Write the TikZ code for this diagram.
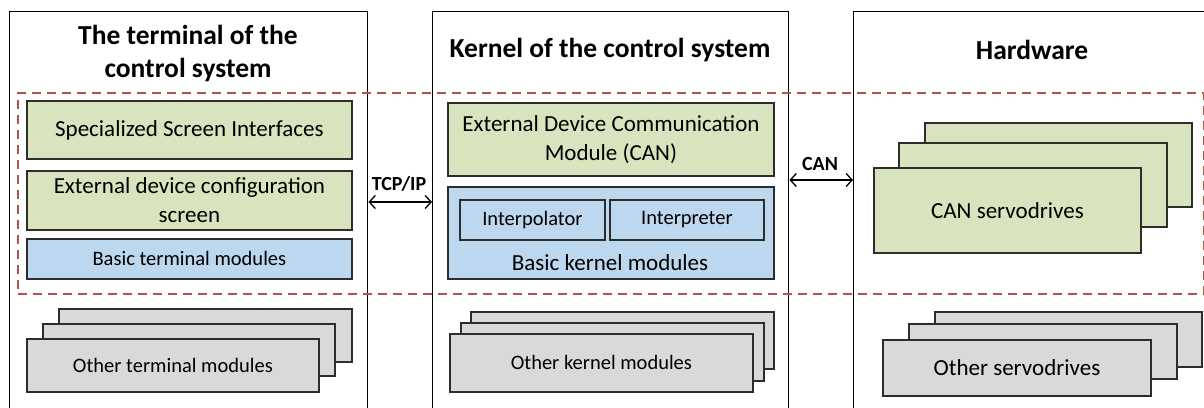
\documentclass[tikz,border=0pt]{standalone}
\usepackage{fontspec}
\setmainfont{Carlito}
\usetikzlibrary{arrows.meta}
\definecolor{gfill}{RGB}{215,228,189}
\definecolor{bfill}{RGB}{189,215,238}
\definecolor{kfill}{RGB}{217,217,217}
\definecolor{edge}{RGB}{45,45,45}
\definecolor{grpred}{RGB}{175,85,80}
\tikzset{
  panel/.style={draw=black, line width=1.4pt, anchor=north west, inner sep=0pt},
  mod/.style={draw=edge, line width=1.8pt, anchor=north west, inner sep=0pt, align=center},
  gmod/.style={mod, fill=gfill},
  bmod/.style={mod, fill=bfill},
  kmod/.style={mod, fill=kfill},
  bigtxt/.style={font=\fontsize{23}{29}\selectfont},
  smalltxt/.style={font=\fontsize{20.5}{25}\selectfont},
  titletxt/.style={font=\fontsize{27.5}{33}\selectfont\bfseries, align=center},
  tagtxt/.style={font=\fontsize{20}{24}\selectfont\bfseries},
  biarrow/.style={{Straight Barb[length=6pt,width=13pt]}-{Straight Barb[length=6pt,width=13pt]}, line width=1.3pt},
  grpbox/.style={draw=grpred, line width=1.5pt, dash pattern=on 9pt off 6pt, anchor=north west, inner sep=0pt}
}
\begin{document}
\begin{tikzpicture}[x=1pt,y=-1pt]
\path[use as bounding box, fill=white] (0,0) rectangle (1204,407);

% the three columns
\node[panel, minimum width=358pt, minimum height=410pt] (term) at (9,11) {};
\node[panel, minimum width=356pt, minimum height=410pt] (kern) at (432,11) {};
\node[panel, minimum width=360pt, minimum height=410pt] (hw) at (853,11) {};

% dashed group of the modules in use
\node[grpbox, minimum width=1186pt, minimum height=201pt] (grp) at (17,92) {};

% column titles
\node[titletxt] (termT) at (188,54) {The terminal of the\\control system};
\node[titletxt] (kernT) at (610,50) {Kernel of the control system};
\node[titletxt] (hwT) at (1032,50) {Hardware};

% terminal column
\node[gmod, bigtxt, minimum width=325pt, minimum height=58pt] (ssi) at (26,100) {Specialized Screen Interfaces};
\node[gmod, bigtxt, minimum width=325pt, minimum height=59pt] (edc) at (26,170) {External device configuration\\screen};
\node[bmod, smalltxt, minimum width=325pt, minimum height=40pt] (btm) at (26,238) {Basic terminal modules};
\node[kmod, minimum width=293pt, minimum height=53pt] (otm3) at (58,308) {};
\node[kmod, minimum width=292pt, minimum height=52pt] (otm2) at (42,323) {};
\node[kmod, smalltxt, minimum width=292pt, minimum height=53pt] (otm1) at (26,338) {Other terminal modules};

% kernel column
\node[gmod, bigtxt, minimum width=326pt, minimum height=73pt] (edcm) at (447,102) {External Device Communication\\Module (CAN)};
\node[bmod, minimum width=326pt, minimum height=92pt] (bkm) at (447,186) {};
\node[bmod, smalltxt, minimum width=145pt, minimum height=40pt] (ipol) at (459,199) {Interpolator};
\node[bmod, smalltxt, minimum width=154pt, minimum height=40pt] (ipre) at (609,199) {Interpreter};
\node[bigtxt] (bkmT) at (610,263) {Basic kernel modules};
\node[kmod, minimum width=303pt, minimum height=57pt] (okm3) at (470,311) {};
\node[kmod, minimum width=303pt, minimum height=58pt] (okm2) at (460,322) {};
\node[kmod, smalltxt, minimum width=303pt, minimum height=58pt] (okm1) at (449,333) {Other kernel modules};

% hardware column
\node[gmod, minimum width=267pt, minimum height=84pt] (csd3) at (924,122) {};
\node[gmod, minimum width=268pt, minimum height=84pt] (csd2) at (898,142) {};
\node[gmod, bigtxt, minimum width=267pt, minimum height=85pt] (csd1) at (873,167) {CAN servodrives};
\node[kmod, minimum width=267pt, minimum height=55pt] (osd3) at (934,311) {};
\node[kmod, minimum width=268pt, minimum height=55pt] (osd2) at (908,323) {};
\node[kmod, bigtxt, minimum width=268pt, minimum height=56pt] (osd1) at (882,339) {Other servodrives};

% links between the columns
\draw[biarrow] ([yshift=-191pt]term.north east) -- ([yshift=-191pt]kern.north west);
\node[tagtxt] (tcp) at (399,184) {TCP/IP};
\draw[biarrow] ([yshift=-169pt]kern.north east) -- ([yshift=-169pt]hw.north west);
\node[tagtxt] (can) at (820,164) {CAN};
\end{tikzpicture}
\end{document}
